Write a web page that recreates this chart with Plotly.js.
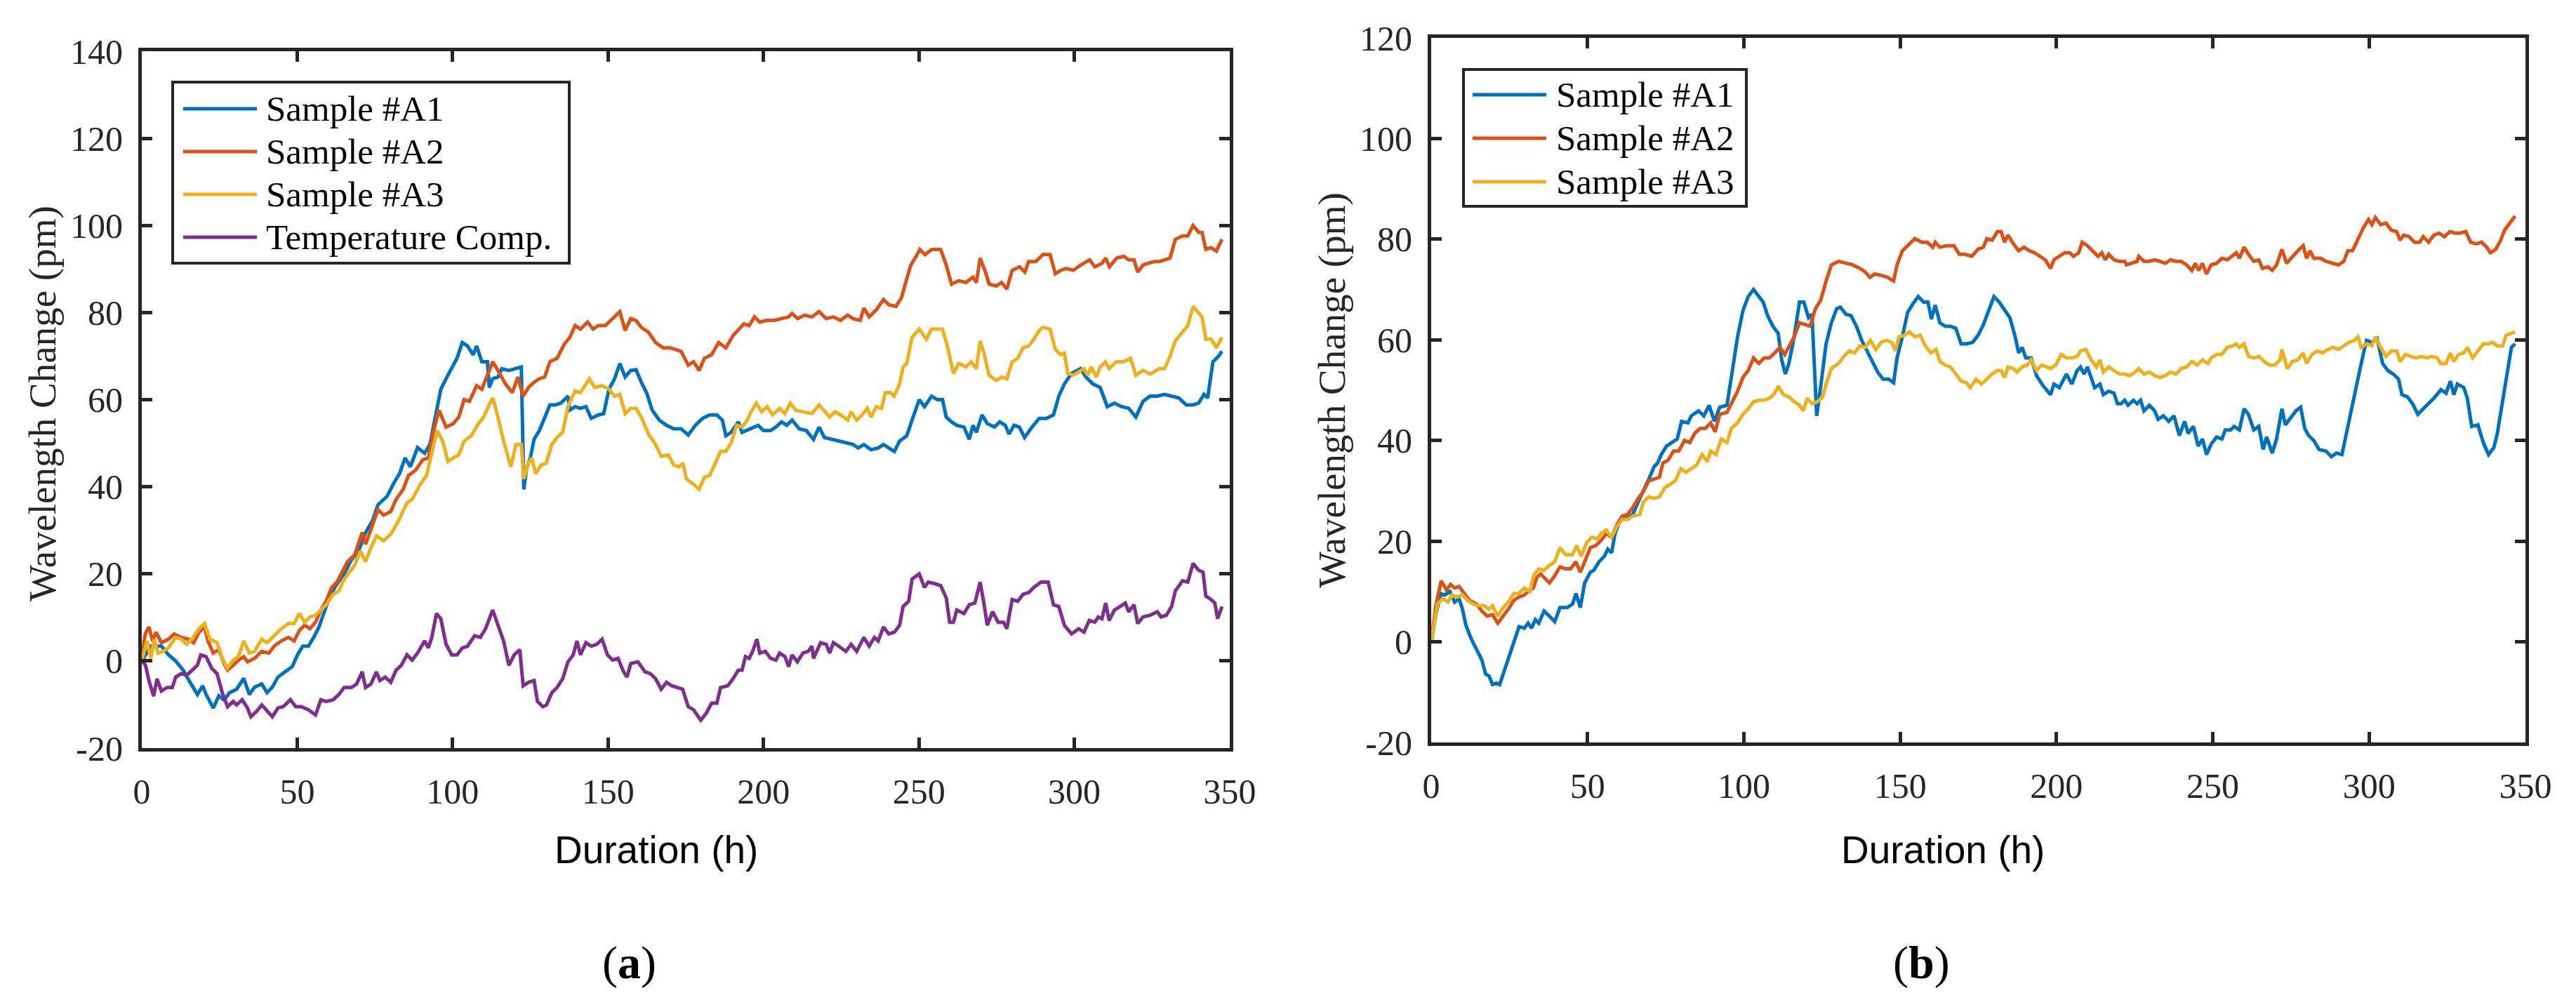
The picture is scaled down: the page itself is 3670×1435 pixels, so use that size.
<!DOCTYPE html>
<html>
<head>
<meta charset="utf-8">
<script src="https://cdn.plot.ly/plotly-3.0.1.min.js"></script>
<style>html,body{margin:0;padding:0;background:#fff;}#chart{width:3670px;height:1435px;}</style>
</head>
<body>
<div id="chart"></div>
<script>
// ---------- DATA ----------
const seriesNamesA = ["Sample #A1", "Sample #A2", "Sample #A3", "Temperature Comp."];
const seriesNamesB = ["Sample #A1", "Sample #A2", "Sample #A3"];
const seriesColors = ["#0072BD", "#D95319", "#EDB120", "#7E2F8E"];

const xTickVals = [0, 50, 100, 150, 200, 250, 300, 350];
const xTickText = ["0", "50", "100", "150", "200", "250", "300", "350"];
const yTickValsA = [-20, 0, 20, 40, 60, 80, 100, 120, 140];
const yTickTextA = ["-20", "0", "20", "40", "60", "80", "100", "120", "140"];
const yTickValsB = [-20, 0, 20, 40, 60, 80, 100, 120];
const yTickTextB = ["-20", "0", "20", "40", "60", "80", "100", "120"];

const xTitle = "Duration (h)";
const yTitle = "Wavelength Change (pm)";
const panelLabels = ["a", "b"];

// Panel (a) series: [hours, pm]
const a_A1 = [[0,0],[2.9,3.4],[6.3,3.4],[8.6,1.4],[10.9,0],[13.2,-2],[15.6,-5],[17.9,-7.7],[19.6,-5.7],[20.7,-7.7],[23,-10.8],[24.8,-8],[26.5,-9],[28.2,-7.3],[30.5,-6.5],[32.8,-4],[34.6,-7.7],[36.3,-6],[38.6,-5.3],[40.3,-7.3],[42,-6],[43.8,-3.7],[46.1,-2.5],[48.4,-1.3],[50.1,1.4],[51.8,3.4],[53.6,3.4],[55.3,5.4],[57,7.8],[58.8,11.7],[60.5,14.9],[62.8,17.7],[65.1,20],[67.4,23.2],[69.7,25.2],[72,29.5],[74.3,32.3],[76,35.9],[78.9,37.8],[81.2,41],[82.9,43],[84.7,46.6],[86.4,44.6],[88.7,49],[91,47.7],[92.7,49.7],[94.5,56.8],[96.2,62.4],[97.9,64.8],[99.7,67.1],[101.4,69.5],[103.1,73.1],[104.8,72.3],[106.6,70.3],[107.7,72.3],[109.4,68.7],[111.2,68.7],[111.8,62.8],[112.9,64.8],[114.6,65.2],[115.8,67.1],[118.1,66.7],[120.4,67.1],[122.1,67.5],[122.9,39.4],[123.8,44.2],[125,46.6],[126.2,50.9],[127.9,52.9],[129.6,56],[131.3,58.8],[133.1,58.8],[134.8,59.2],[137.1,60.8],[137.7,57.6],[139.4,58.4],[141.1,58],[142.9,58.4],[144.6,55.7],[146.9,56.5],[148.6,56.8],[150.3,62.4],[152.1,64.8],[153.8,68.3],[155.5,65.2],[157.3,66.7],[159,66.9],[160.7,64],[162.4,61.6],[164.2,57.6],[166.5,55.3],[168.8,54.1],[171.1,53.3],[173.5,53.3],[175.8,51.9],[178.1,54.1],[180.4,55.7],[182.7,56.5],[185,56.5],[186.8,55.3],[187.9,51.7],[189.6,52.5],[191.9,54.9],[193.1,52.5],[195.4,53.3],[198.3,54.1],[200,52.9],[202.3,52.9],[204,53.7],[205.8,54.9],[207.5,54.1],[209.2,55.3],[211.5,53.3],[213.8,52.9],[216.1,50.9],[217.9,53.7],[219.6,51.3],[221.9,50.9],[224.2,50.5],[226.5,50.1],[228.8,49.7],[230.5,48.9],[232.3,49.7],[234.6,48.5],[236.9,48.9],[238.6,49.7],[240.3,48.9],[242.1,48.1],[243.8,50.5],[246.1,51.7],[247.8,55.3],[250.1,60],[251.8,58.4],[254.1,60.8],[255.9,60],[257.6,60],[258.8,56],[260.5,54.9],[262.2,54.1],[264.5,53.7],[266.2,50.9],[267.4,54.1],[268.5,52.5],[270.3,56.5],[272,54.5],[274.3,53.7],[276,54.9],[277.8,54.1],[279,52.1],[280.6,54.1],[282.3,53.7],[284,51.3],[286.4,53.7],[288.7,55.7],[291,55.7],[293.3,56.5],[295,60.8],[296.8,63.6],[299.1,66],[302,67.1],[303.7,65.2],[306,63.6],[308.3,62.8],[310.6,58.4],[312.9,59.2],[315.2,58.4],[317.5,58],[319.8,56],[322.1,59.6],[324.4,60.8],[326.7,60.8],[329,61.2],[331.3,60.8],[333.6,60.4],[336,58.8],[338.2,58.8],[340,59.2],[341.7,61.2],[342.9,60.4],[344.6,68.7],[346.3,69.9],[347.5,71.1]];

const a_A2 = [[0,0.2],[1.1,6.2],[2.3,7.8],[3.5,4.6],[4.6,6.6],[6.3,4.2],[8.6,5],[10.4,6.2],[12.7,5.4],[15,5],[16.7,4.2],[18.4,6.6],[20.2,7.8],[21.3,4.6],[23,1.8],[24.8,2.6],[26.5,-0.6],[27.6,-2.1],[29.4,-1],[31.1,0.2],[32.8,1],[34,-0.2],[36.3,0.6],[38.6,2.2],[40.9,1.8],[42.6,3.4],[44.9,4.6],[47.2,5.4],[49,4.6],[50.7,7],[52.4,8.2],[54.1,7.4],[55.9,8.9],[57.6,11.7],[59.3,13.7],[61.1,16.9],[62.8,18.1],[64.5,20.4],[66.2,22.8],[68.5,24.4],[70.9,29.5],[72,26.8],[73.7,30.3],[76,34.7],[77.8,33.5],[80.1,34.3],[81.8,37.1],[84.1,39.4],[85.8,42.6],[88.1,43.8],[90.4,46.2],[92.2,46.6],[93.9,52.9],[95.6,57.6],[97.9,53.7],[100.2,54.5],[102,56],[103.7,60],[105.4,59.6],[107.7,63.2],[109.4,62.4],[111.2,65.6],[112.9,68.7],[114.6,66.7],[117,63.6],[119.2,61.6],[121,65.2],[122.7,60.8],[124.4,62.8],[126.2,64],[127.9,64.8],[129.6,65.2],[131.3,68.7],[133.6,69.5],[135.9,72.7],[137.7,74.3],[139.4,77],[141.1,76.2],[143.4,77.8],[145.2,76.2],[146.9,77],[149.1,77],[151.5,78.6],[153.8,80.2],[155.5,75.9],[157.3,78.6],[159,78.2],[160.7,76.6],[163,75.5],[165.3,73.1],[167.7,71.9],[170,71.9],[173.5,71.1],[175.8,67.9],[177.5,68.7],[179.3,66.7],[181,69.5],[183.3,70.3],[185.6,73.1],[187.9,71.9],[190.2,74.7],[191.9,75.9],[193.7,77.4],[195.4,77],[197.1,79],[198.8,77.8],[201.2,78.2],[203.5,78.2],[205.8,78.6],[208.1,79],[209.2,79.8],[211,78.6],[213.2,79.4],[215.6,79],[217.9,80.2],[220.2,78.6],[222.5,79],[224.8,78.2],[227.1,79.4],[228.8,78.6],[231.1,78.2],[232.3,81],[234,79],[236.3,80.6],[238.6,83],[240.3,81.8],[242.6,81.4],[244.4,83.4],[245.6,86.5],[247.4,90.9],[249.1,92.9],[250.3,94.5],[252,93.3],[254.1,94.5],[257,94.5],[258.8,90.9],[260.5,86.5],[262.8,87.3],[265.1,86.9],[267.4,88.1],[268.5,86.9],[269.7,92.5],[271.4,89.3],[272.6,86.5],[274.9,86.1],[276.6,86.9],[278.3,85.4],[280,89.7],[282.4,90.5],[284.1,89.3],[285.3,91.7],[287.6,91.7],[289.9,93.3],[292.2,93.3],[293.9,88.9],[295.6,89.7],[297.4,90.1],[299.7,89.7],[302,90.9],[304.9,92.1],[306.6,90.5],[308.9,91.3],[310.1,92.5],[311.3,90.5],[313.6,92.5],[315.9,92.9],[317.5,92.1],[319.2,92.1],[320.4,89.3],[322.1,90.9],[323.8,91.3],[325.6,91.7],[327.3,91.7],[329,92.1],[330.8,92.5],[332.5,96.8],[334.8,97.6],[336.5,97.6],[338.2,100],[340,98.4],[341.1,98.4],[342.3,94.5],[344,94.9],[345.7,94.1],[347.5,96.8]];

const a_A3 = [[0,0.2],[1.7,4.6],[2.9,0.6],[4,5],[5.2,1.8],[6.9,2.2],[8.6,3],[10.9,5.4],[12.7,5],[14.4,3.8],[16.1,5],[18.4,7.4],[20.2,8.6],[21.9,5],[24.2,4.2],[25.9,0.6],[27.6,-1.7],[29.4,0.2],[31.1,1],[32.8,4.6],[34.6,1.8],[36.3,2.2],[38.6,5],[40.3,4.2],[42.6,5.8],[44.9,7.4],[47.2,8.6],[49,8.6],[50.7,10.9],[52.4,8.9],[54.1,10.1],[55.9,10.5],[57.6,11.7],[59.3,12.9],[61.6,15.3],[63.4,16.1],[65.1,18.8],[66.8,20.4],[68.5,22],[70.3,25.2],[72,22.8],[73.7,26],[75.5,28.7],[77.8,27.6],[80.1,29.1],[82.4,31.9],[85.3,36.3],[87,37.1],[89.3,40.2],[91.6,42.6],[93.3,48.1],[95,52.9],[96.8,50.5],[98.5,45.8],[100.2,46.6],[102,47.3],[103.7,50.5],[106,51.7],[108.3,54.5],[110,56],[111.2,58],[112.9,60.4],[114.6,56],[116.4,50.5],[118.7,44.6],[120.4,49.7],[122.1,49.7],[122.9,41.8],[124.4,45.4],[125.5,46.6],[126.7,43],[128.5,45],[130.1,45.4],[131.9,49.7],[133.6,51.3],[135.4,52.5],[137.1,58.4],[139.4,62],[141.1,61.6],[144,64.8],[145.7,62.8],[148.1,63.2],[150.3,62.4],[152.1,60.8],[153.8,61.2],[155.5,56.8],[157.3,58],[159,58],[160.7,56],[163,52.1],[165.3,49.7],[167.1,47],[169.4,47.3],[171.1,45],[172.9,44.6],[174.1,45.4],[175.2,41.8],[177.5,40.6],[179.3,39.4],[181,42.2],[182.7,42.6],[184.5,45.4],[186.2,48.1],[187.9,48.1],[189.6,50.1],[191.4,54.1],[193.1,53.7],[194.8,55.3],[196,57.2],[197.7,59.2],[199.4,57.2],[201.2,58.4],[202.9,56.5],[205.2,58],[206.9,56.8],[208.6,59.2],[210.4,57.6],[212.7,57.2],[215.6,56.8],[217.9,58.8],[220.2,56.8],[221.3,56],[223,57.2],[224.8,56.5],[227.1,55.3],[228.2,57.2],[230,55.3],[231.7,56.5],[233.4,58],[234.6,56],[236.3,58.4],[238,58],[239.2,61.6],[240.9,61.6],[242,60.8],[243.8,63.6],[244.9,67.5],[246.1,68.3],[247.8,74.3],[250.1,76.2],[252.4,73.9],[254.1,76.2],[256.5,76.2],[257.6,76.2],[259.3,71.9],[260.5,67.9],[261.1,66],[262.8,68.3],[265.1,67.5],[266.8,68.7],[268.5,67.1],[269.7,73.5],[270.9,70.7],[272.6,65.6],[274.9,64.4],[276.6,65.2],[278.3,64.8],[280,68.7],[281.8,69.5],[283.5,71.9],[285.3,72.3],[287,73.9],[288.7,75.9],[289.9,76.6],[292.2,76.2],[293.9,71.5],[295.6,70.3],[296.8,70.7],[297.9,66],[299.7,65.6],[301.4,66.3],[303.1,67.1],[304.3,65.6],[305.4,67.5],[307.1,65.2],[308.3,67.5],[310,68.7],[311.2,67.1],[313.5,68.7],[315.8,68.7],[318.1,69.5],[319.8,65.6],[322.1,66.7],[324.4,65.9],[327.3,67.1],[329,67.1],[330.8,69.9],[332.5,73.5],[334.8,75.5],[336.5,77],[338.2,81.4],[340,79.8],[341.1,79],[342.3,73.9],[344,73.9],[345.7,71.9],[347.5,74.3]];

const a_TC = [[0,0.2],[1.2,-1],[2.3,-4.5],[3.8,-8.1],[4.9,-4.1],[6.3,-6.9],[8.1,-6.1],[9.8,-6.1],[10.9,-3.7],[12.7,-2.9],[14.4,-3.3],[16.1,-2.1],[17.9,-1],[19,1.4],[20.7,1],[22.5,-1.7],[24.2,-2.9],[25.9,-7.3],[27.6,-10.5],[29.4,-9.3],[30.5,-10.1],[32.3,-8.9],[34,-10.8],[35.1,-12.8],[36.9,-11.6],[38.6,-10.1],[40.3,-11.6],[42,-12.8],[43.8,-10.8],[45.5,-10.5],[47.8,-8.9],[49.5,-10.5],[51.3,-10.5],[53.6,-11.2],[55.9,-12.4],[57.6,-8.9],[59.3,-9.3],[61.6,-8.9],[63.4,-7.7],[65.1,-6.1],[67.4,-6.1],[69.1,-5.3],[70.9,-2.5],[72,-6.1],[73.7,-5.3],[75.5,-2.5],[76.6,-4.5],[78.3,-3.7],[80.1,-4.9],[81.8,-2.1],[83.5,-1],[85.3,1.4],[87,0.2],[88.7,1.8],[91,4.6],[92.2,3],[93.3,5.4],[94.8,10.9],[96.2,9.7],[97.9,3.8],[99.7,1.4],[101.4,1.4],[103.1,3],[104.8,3.4],[107.1,5.8],[108.9,5.4],[110.6,7.4],[112.9,11.7],[114.6,8.2],[116.4,4.6],[118.1,-1],[119.8,1.4],[121.6,2.6],[122.7,-5.7],[124.4,-4.9],[126.2,-4.5],[127.3,-9.3],[129,-10.5],[130.2,-10.1],[131.9,-7.3],[133.6,-6.1],[135.4,-4.1],[137.1,-0.2],[138.8,1.4],[140,4.6],[141.1,1.4],[142.9,4.2],[144.6,3.4],[146.3,3.8],[148.1,5],[149.8,1.4],[151.5,0.2],[153.2,0.6],[155,-2.5],[156.1,-3.7],[157.3,-0.6],[159.6,-0.2],[161.9,-2.5],[163.6,-2.9],[165.3,-4.1],[167.1,-6.5],[168.8,-4.9],[170.5,-5.7],[172.3,-6.1],[174,-6.5],[175.8,-10.5],[177.5,-11.2],[179.8,-13.6],[181.6,-12],[183.3,-9.7],[185,-9.7],[186.2,-6.1],[188.5,-5.7],[190.2,-4.1],[191.9,-2.1],[193.1,-2.1],[194.2,1],[195.4,0.6],[196.5,2.2],[197.9,5],[198.8,1.8],[200.6,2.2],[202.3,0.6],[204,0.2],[205.2,1.8],[206.9,1],[208.1,-1.3],[209.2,1.4],[210.9,-0.2],[212.7,1.8],[214.4,2.2],[215.6,3.4],[216.1,0.6],[218.4,4.2],[220.2,3.8],[221.3,1.8],[222.5,4.2],[224.2,3.4],[226.5,2.2],[228.2,3.8],[230,2.2],[232.3,5.4],[234,3.4],[235.7,5.4],[236.9,4.6],[238.6,7.8],[240.3,6.2],[242.1,6.6],[243.8,8.2],[244.9,12.5],[246.7,13.7],[247.8,18.8],[250.1,20],[251.8,16.9],[253,18.1],[255.3,17.7],[257,17.3],[258.8,14.5],[259.9,8.9],[261.1,8.9],[262.2,11.7],[264.5,10.9],[266.2,12.9],[268,13.3],[269.7,18.1],[270.9,13.3],[272,8.2],[273.7,11.3],[275.5,8.9],[277.2,8.9],[278.3,7.4],[280,14.1],[281.8,13.7],[283.5,15.3],[285.3,15.7],[287,16.9],[289.3,18.1],[291.6,18.1],[293.3,12.9],[295,12.5],[296.8,8.2],[299.1,6.2],[301.4,7.4],[303.1,6.6],[304.8,9.3],[306.6,8.9],[307.7,10.1],[308.9,9.7],[310.1,13.3],[311.2,9.3],[312.9,11.7],[314.7,12.5],[316.4,13.3],[317.5,11.3],[319.2,12.9],[320.4,8.6],[322.1,10.1],[324.4,10.5],[326.7,11.3],[327.9,10.1],[329.6,10.5],[331.3,12.5],[332.5,16.1],[334.8,18.4],[336.5,18.1],[338.2,22.4],[340,20.8],[341.4,20.4],[342.3,14.9],[344,14.1],[345.2,13.3],[346.1,9.7],[347.5,12.5]];

// Panel (b) series: [hours, pm]
const b_A1 = [[0,0],[1.5,5.4],[3,9.6],[4.3,9.3],[6,10],[7.5,7.9],[8.9,8.6],[10,6.5],[11.1,3.3],[12.8,0.6],[14.5,-1.5],[16.2,-3.6],[17.4,-6.4],[18.5,-6.8],[19.6,-8.5],[20.8,-8.2],[21.9,-8.5],[23,-6.4],[24.7,-3.6],[26.4,0.2],[28.1,3],[29.8,2.7],[31,3.7],[32.1,2.7],[33.3,4.4],[34.4,3.7],[36.1,6.1],[37.8,5.1],[39.5,4],[41.2,6.8],[43.5,6.8],[45.2,7.5],[46.3,9.6],[47.7,6.8],[49.1,11.7],[50.9,13.8],[52,14.2],[53.7,15.9],[55.4,17],[56.5,18.4],[57.7,17.7],[58.8,21.5],[60.5,24.3],[62.8,24.6],[64.5,25.3],[66.2,27.8],[67.9,29.9],[69.6,32.3],[71.3,34.8],[72.4,35.5],[73.6,37.2],[75.3,38.9],[77,39.6],[78.7,40.3],[80.1,43.8],[82.1,43.5],[83.2,44.9],[85.5,45.9],[87.2,44.9],[88.9,47],[90.6,43.8],[92.3,46.6],[94.6,47],[96.3,53.6],[98,60.6],[99.7,65.8],[101.4,68.6],[103.1,70],[104.8,68.6],[106.2,67.5],[107.6,64.8],[109.3,62.7],[111,61.3],[112.1,56],[113.3,53.2],[114.4,55.3],[116.1,60.6],[117.8,67.5],[119.2,67.5],[120.7,64.4],[121.8,65.1],[122.6,54.3],[123.3,44.9],[124.6,50.8],[126.3,59.2],[128,63.4],[129.7,66.2],[130.9,66.5],[132.6,65.1],[134.3,64.8],[136,62.7],[137.7,59.9],[139.4,57.8],[141.1,55.7],[142.8,53.6],[144.5,52.2],[146.3,52.2],[147.9,51.5],[149,56.4],[150.7,60.6],[152.4,65.5],[154.1,67.2],[155.8,68.6],[157.5,67.5],[158.9,67.5],[160,64.1],[161.2,66.9],[162.7,63.4],[164.4,62.7],[166.1,62.7],[167.8,62.3],[169.5,59.2],[171.2,59.2],[173.2,59.5],[174.9,60.9],[176.6,63],[178.3,65.8],[180,68.6],[181.7,67.5],[183.4,65.8],[185.1,64.4],[186.8,60.6],[187.9,57.4],[189,58.5],[190.2,56.4],[191.9,56.4],[193.6,52.9],[195.8,50.8],[198.1,49.1],[199.2,51.2],[200.9,50.5],[203.2,53.2],[204.9,51.2],[206.6,53.9],[207.7,54.6],[208.8,53.2],[209.9,54.6],[212.2,50.5],[213.9,51.2],[215,49.1],[216.7,49.8],[218.4,49.4],[219.5,47.3],[220.7,47.3],[221.8,48],[222.9,47],[224.6,48],[225.8,47.3],[226.9,48],[228,45.9],[229.7,47],[231.4,45.9],[232.5,44.2],[234.2,44.9],[235.9,43.8],[237.6,44.9],[239.3,41],[241,43.8],[242.1,41.4],[243.8,42.8],[245.3,38.9],[246.7,40.3],[248,37.2],[249.5,39.3],[251.2,40.7],[252.9,40.3],[254,42.1],[255.7,42.1],[256.8,42.8],[258.5,42.1],[260,46.3],[261.4,45.2],[263.1,42.1],[264.7,42.8],[266.1,38.2],[267.2,40.7],[269,37.5],[270.4,40.3],[272.1,46.3],[273.2,43.1],[274.9,44.5],[276.6,45.9],[278.1,46.6],[279.4,42.4],[280.6,41],[282.3,40],[284,38.2],[286.2,37.9],[287.9,36.8],[289.6,37.5],[291.3,37.2],[293,42.4],[294.7,47.3],[296.4,52.2],[298.1,57.1],[299.2,59.9],[300.9,59.5],[302.6,60.2],[304.3,55.3],[306,53.9],[307.7,53.2],[309.4,52.2],[310.5,49.1],[312.2,48.7],[313.9,47.3],[315.6,45.2],[317.3,46.3],[319,47.3],[320.7,48.4],[323,50.1],[324.6,49.4],[326,51.8],[327.1,49.1],[328.2,51.2],[330.3,50.5],[331.4,48.4],[332.8,42.8],[334.8,43.1],[336.5,39.6],[338.2,37.2],[339.9,38.6],[341,41.4],[342.7,48],[344.4,54.3],[345.5,58.5],[346.7,59.2]];

const b_A2 = [[0,0],[1.5,7.2],[3.2,12.1],[4.9,10.3],[6.2,11.4],[7.5,10.7],[8.9,11],[10.6,9.6],[12.3,8.2],[14.5,7.5],[16.2,6.1],[17.9,5.1],[19.6,5.4],[21.3,3.7],[23,5.1],[24.7,6.5],[26.4,8.2],[28.1,8.9],[29.8,9.3],[31.5,10.3],[32.7,10.7],[33.8,12.8],[35,13.5],[36.1,12.8],[37.8,11.7],[39.5,13.1],[41.2,14.9],[42.9,14.5],[44.6,14.5],[46.3,15.9],[47.7,13.8],[49.1,15.9],[50.9,18.7],[52.6,19.1],[54.3,20.1],[56,21.5],[57.7,20.8],[59.4,23.2],[61.1,25],[62.8,25.3],[64.5,26.7],[66.2,28.5],[67.9,29.9],[69.6,32],[71.3,32.3],[73,32.7],[74.1,35.5],[75.8,36.1],[77.5,37.9],[79.2,37.9],[81,40],[82.7,39.6],[84.3,41.4],[86,42.4],[87.7,42.4],[89.4,43.5],[90.8,41.7],[92.3,45.2],[94.6,45.6],[96.3,47.7],[98,49.8],[99.7,52.5],[101.4,53.9],[103.1,56.4],[104.8,55.3],[106.5,56.4],[108.2,56.4],[109.9,57.4],[111.6,58.5],[113.1,57.1],[114.4,58.5],[116.1,60.6],[117.8,63.4],[119.5,63],[121.2,62.7],[122.9,66.2],[124.6,67.9],[126.3,71.7],[128,74.9],[130.3,75.6],[132.6,75.2],[134.8,74.9],[137.1,74.2],[138.8,73.5],[140.3,72.4],[141.9,73.1],[144,72.8],[146,72.4],[147.9,71.7],[149,74.9],[150.7,77.7],[152.4,78.7],[154.7,80.1],[157,79.4],[158.7,79.4],[160.4,78.4],[161.2,79.4],[162.7,78.4],[164.9,78.7],[167.2,78.7],[168.9,77],[170.6,77],[172.9,76.6],[174.9,78],[176.6,78.4],[177.7,80.1],[179.4,79.8],[181.1,81.5],[182.3,81.5],[183.4,79.4],[184.5,80.8],[186.2,79.1],[187.9,77.7],[189.6,78.4],[191.3,77.7],[193,77.3],[194.7,76.6],[196.4,75.9],[198.1,74.2],[199.2,75.9],[200.9,76.6],[202.6,77.3],[204.3,77.3],[205.4,76.6],[207.1,77.3],[208.2,79.4],[209.9,78.7],[211.6,77.7],[213.3,76.6],[214.5,77.3],[215.6,75.9],[216.7,77],[218.4,75.9],[220.1,75.6],[221.8,75.6],[222.4,74.9],[224.1,75.2],[225.8,75.6],[226.3,76.6],[228,75.6],[229.7,75.6],[231.4,75.9],[233.1,75.6],[234.8,75.2],[236.5,75.9],[238.2,75.6],[239.9,75.6],[241.6,74.9],[243.3,73.8],[244.4,75.2],[245.5,73.8],[246.7,75.2],[248,73.1],[249.5,74.9],[251.2,75.2],[252.9,76.2],[254.6,75.9],[256.3,76.6],[257.5,77.3],[258.5,76.2],[260,78.4],[261.4,77],[263.1,75.6],[264.7,75.9],[265.9,74.2],[267.6,74.5],[269,73.8],[270.4,74.9],[272.1,78],[273.6,75.2],[274.9,76.2],[276.6,77.3],[277.7,78],[278.9,78.7],[280,76.2],[281.1,77.7],[282.3,76.2],[284.5,76.2],[286.2,75.6],[288.5,75.2],[290.2,74.9],[291.9,75.6],[293.2,77.7],[294.7,77.7],[296.4,80.1],[298.1,82.2],[299.8,83.9],[300.9,82.9],[302,84.3],[303.7,82.9],[305.4,83.2],[307.1,81.8],[308.8,81.5],[309.9,79.8],[311.1,80.8],[312.8,80.5],[314.5,79.4],[316.2,79.4],[317.3,80.5],[319,79.4],[320.7,80.8],[322.4,81.2],[324.1,80.5],[325.8,81.5],[327.5,81.2],[329.2,81.2],[330.9,81.5],[332.5,79.4],[334.3,79.1],[336,79.4],[337.6,78.4],[338.8,77.3],[340.5,78],[342.1,79.8],[343.3,81.8],[345,83.2],[346.7,84.6]];

const b_A3 = [[0,0],[2,7.5],[3.7,8.6],[5.4,7.9],[6.6,9.3],[8.3,8.9],[10,9.3],[11.7,8.2],[13.4,7.5],[15.1,7.2],[16.8,7.2],[18.5,6.5],[19.6,7.2],[21.3,5.1],[23,6.8],[24.7,7.9],[26.4,9.6],[28.1,9.6],[29.8,10.7],[31.6,10],[32.7,13.1],[34.4,14.5],[36.1,14.2],[37.8,15.2],[39.5,15.9],[41.2,18.7],[43,17.3],[45.2,17.3],[46.5,19.1],[48,17],[49.7,19.7],[51.4,20.8],[53.1,20.4],[54.3,21.5],[56,22.2],[57.7,20.8],[59.4,22.9],[61.1,24.3],[62.8,24.3],[64.5,25],[66.7,25.3],[67.9,27.8],[69.6,28.8],[71.3,28.5],[73,28.8],[74.7,30.6],[76.4,31.3],[78.1,32],[79.8,34.4],[81.5,33.7],[83.2,34.4],[84.9,35.1],[86.6,37.2],[88.3,35.8],[89.4,37.9],[91.1,37.2],[92.8,40.3],[94.6,39.6],[96,42.4],[98,43.5],[99.7,45.2],[101.4,46.3],[103.1,47.7],[104.8,48],[106.5,48],[108.2,48.4],[109.9,49.4],[111,50.8],[112.7,49.1],[114.4,48.7],[116.1,47.7],[117.8,47],[119,45.9],[120.3,48.4],[121.8,47.3],[123.5,47.7],[125.2,48.7],[126.3,51.2],[128,54.3],[130.3,55.3],[132,56.7],[133.7,57.8],[135.4,57.4],[137.1,58.8],[138.8,58.5],[140.5,59.9],[142.2,58.1],[143.9,59.5],[145.6,59.9],[147.3,59.5],[148.5,57.8],[149.6,60.6],[151.3,60.9],[153,61.6],[154.7,60.6],[156.4,60.9],[158.1,58.8],[159.8,57.4],[161.5,58.1],[162.7,55.7],[164.4,55],[166.1,54.6],[167.8,53.2],[169.5,51.8],[171.2,51.5],[172.4,50.5],[174.3,52.2],[176,51.2],[177.7,52.2],[179.4,53.2],[181.1,53.9],[182.3,53.9],[183.4,52.5],[184.5,54.6],[186.2,54.3],[187.3,53.6],[189,54.6],[190.7,55],[191.9,56],[193.6,53.9],[195.3,55],[197,54.6],[198.1,54.3],[199.8,55],[201.5,57.1],[203.2,56.4],[204.9,56.4],[206.6,56.7],[207.7,57.8],[209.4,58.1],[211.1,56],[212.8,54.6],[213.9,56],[215,53.6],[216.7,54.6],[218.4,53.9],[220.1,53.2],[221.8,53.2],[223.5,52.9],[225.2,53.6],[226.3,54.3],[228,53.2],[229.7,53.6],[231.4,52.9],[233.1,52.5],[234.8,52.9],[236.5,53.6],[238.2,53.2],[239.9,54.3],[241.6,54.6],[243.3,55.7],[245,55],[246.7,56],[248.4,55.3],[249.5,56.4],[251.2,57.1],[252.9,57.1],[254.6,58.5],[256.3,58.8],[257.5,59.2],[258.5,58.5],[260,59.2],[261.4,56.7],[263.1,56.4],[264.7,56.7],[266.4,55.7],[268.1,55],[269.8,55],[271.5,56],[272.1,58.1],[273.8,54.3],[275.5,55.7],[277.2,56],[278.9,57.4],[280,55.3],[281.7,57.1],[283.4,57.8],[285.1,57.4],[286.8,58.1],[288.5,58.5],[290.2,58.1],[291.9,58.8],[293.6,59.5],[295.3,59.9],[296.4,60.6],[297.5,58.5],[299.2,59.2],[300.9,58.8],[302,60.6],[303.7,58.5],[305.4,56.7],[307.1,57.8],[308.8,57.8],[309.9,55.7],[311.6,57.1],[313.3,56.7],[315,56.4],[316.7,56.7],[318.4,56.4],[320.1,56.7],[321.8,56.4],[322.9,55.3],[324.6,55.3],[326,57.4],[327.1,55.7],[328.6,57.1],[330.3,57.4],[331.4,58.5],[333.1,56.4],[334.8,57.8],[336.5,59.2],[338.2,59.2],[339.4,59.5],[341,58.8],[342.7,58.8],[343.8,60.9],[345.5,61.3],[346.7,61.6]];

// ---------- LAYOUT HELPERS (pixel -> paper fraction) ----------
const W = 3670, H = 1435;
const px = v => v / W;
const py = v => 1 - v / H;
const INK = "#262626";

const panelA = [a_A1, a_A2, a_A3, a_TC];
const panelB = [b_A1, b_A2, b_A3];

const traces = [];
panelA.forEach((s, i) => traces.push({
  type: "scatter", mode: "lines", name: seriesNamesA[i],
  x: s.map(p => p[0]), y: s.map(p => p[1]),
  xaxis: "x", yaxis: "y",
  line: {color: seriesColors[i], width: 5}, showlegend: false, hoverinfo: "skip"
}));
panelB.forEach((s, i) => traces.push({
  type: "scatter", mode: "lines", name: seriesNamesB[i],
  x: s.map(p => p[0]), y: s.map(p => p[1]),
  xaxis: "x2", yaxis: "y2",
  line: {color: seriesColors[i], width: 5}, showlegend: false, hoverinfo: "skip"
}));

const axisCommon = {
  showline: true, linewidth: 5, linecolor: INK, mirror: "ticks",
  ticks: "inside", ticklen: 15, tickwidth: 5, tickcolor: INK,
  showgrid: false, zeroline: false, automargin: false, fixedrange: true,
  tickfont: {family: "Liberation Serif", size: 50, color: INK},
  tickmode: "array"
};

const layout = {
  width: W, height: H,
  margin: {l: 0, r: 0, t: 0, b: 0, pad: 0},
  paper_bgcolor: "#ffffff", plot_bgcolor: "#ffffff",
  showlegend: false,
  xaxis: Object.assign({}, axisCommon, {domain: [px(202), px(1752)], range: [0, 350], anchor: "y",
    tickvals: xTickVals, ticktext: xTickText, ticklabelstandoff: 14}),
  yaxis: Object.assign({}, axisCommon, {domain: [py(1066), py(73)], range: [-20, 140], anchor: "x",
    tickvals: yTickValsA, ticktext: yTickTextA, ticklabelstandoff: 12}),
  xaxis2: Object.assign({}, axisCommon, {domain: [px(2039), px(3598)], range: [0, 350], anchor: "y2",
    tickvals: xTickVals, ticktext: xTickText, ticklabelstandoff: 14}),
  yaxis2: Object.assign({}, axisCommon, {domain: [py(1058), py(54)], range: [-20, 120], anchor: "x2",
    tickvals: yTickValsB, ticktext: yTickTextB, ticklabelstandoff: 12}),
  shapes: [], annotations: []
};

// Axis titles and panel labels
const ann = (x, y, text, font, extra) => Object.assign({
  xref: "paper", yref: "paper", x: px(x), y: py(y), text: text, showarrow: false,
  xanchor: "center", yanchor: "middle", font: font
}, extra || {});
const serif = (size, color) => ({family: "Liberation Serif", size: size, color: color || INK});
const sans = (size, color) => ({family: "Liberation Sans", size: size, color: color || "#000"});

layout.annotations.push(ann(60, 575, yTitle, serif(55), {textangle: -90}));
layout.annotations.push(ann(1897, 556, yTitle, serif(55), {textangle: -90}));
layout.annotations.push(ann(935, 1211, xTitle, sans(55)));
layout.annotations.push(ann(2768, 1211, xTitle, sans(55)));
layout.annotations.push(ann(896, 1372, "(<b>" + panelLabels[0] + "</b>)", serif(66, "#000")));
layout.annotations.push(ann(2737, 1372, "(<b>" + panelLabels[1] + "</b>)", serif(66, "#000")));

// Hand-built legends (MATLAB style, long line samples)
function addLegend(names, box, rowY0, rowStep, lineX0, lineX1, textX) {
  layout.shapes.push({type: "rect", xref: "paper", yref: "paper", layer: "above",
    x0: px(box[0]), x1: px(box[1]), y0: py(box[3]), y1: py(box[2]),
    line: {color: INK, width: 4}, fillcolor: "#ffffff"});
  names.forEach((n, i) => {
    const yy = rowY0 + rowStep * i;
    layout.shapes.push({type: "line", xref: "paper", yref: "paper", layer: "above",
      x0: px(lineX0), x1: px(lineX1), y0: py(yy), y1: py(yy),
      line: {color: seriesColors[i], width: 5}});
    layout.annotations.push(ann(textX, yy, n, serif(51, "#000"), {xanchor: "left"}));
  });
}
addLegend(seriesNamesA, [246, 811, 117, 375], 155, 61, 261, 366, 377);
addLegend(seriesNamesB, [2085, 2488, 99, 294], 135, 62, 2098, 2203, 2215);

Plotly.newPlot("chart", traces, layout, {staticPlot: true, displayModeBar: false});
</script>
</body>
</html>
